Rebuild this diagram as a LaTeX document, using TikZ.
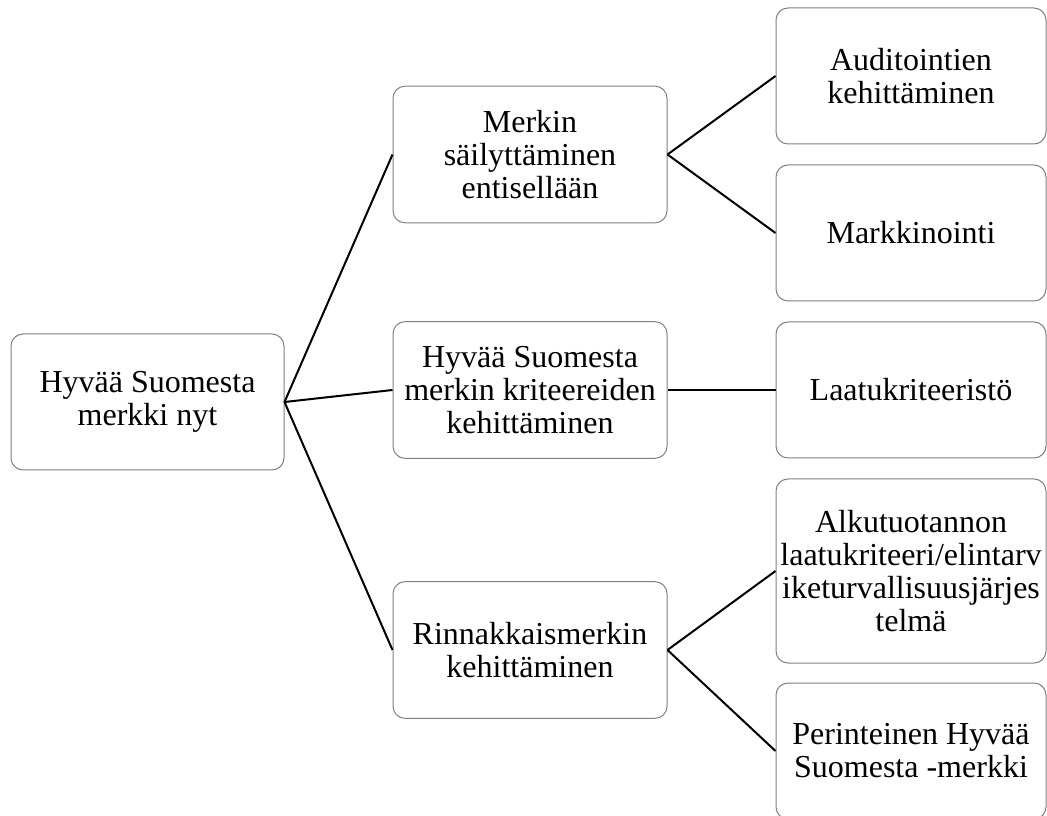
\documentclass[tikz,border=0pt]{standalone}
\usepackage{fontspec}
\setmainfont{Liberation Serif}
\begin{document}
\begin{tikzpicture}[x=0.75pt,y=-0.75pt,
  box/.style={draw=black!50, line width=0.75pt, rounded corners=9pt, fill=white,
    align=center, inner sep=0pt, font=\fontsize{24}{24.75}\selectfont},
  rootbox/.style={box, minimum width=204.75pt, minimum height=102pt},
  midbox/.style={box, minimum width=205.5pt, minimum height=102.5pt},
  leafbox/.style={box, minimum width=202.5pt, minimum height=102pt},
  tallbox/.style={box, minimum width=202.5pt, minimum height=138pt},
  link/.style={draw=black, line width=1.5pt}]
\useasboundingbox (0,0) rectangle (1047,816);
\clip (0,0) rectangle (1047,816);
\node[rootbox] (root) at (147.5,402) {Hyvää Suomesta\\merkki nyt};
\node[midbox] (m1) at (530,154.5) {Merkin\\säilyttäminen\\entisellään};
\node[midbox] (m2) at (530,390) {Hyvää Suomesta\\merkin kriteereiden\\kehittäminen};
\node[midbox] (m3) at (530,650) {Rinnakkaismerkin\\kehittäminen};
\node[leafbox] (l1) at (911,76) {Auditointien\\kehittäminen};
\node[leafbox] (l2) at (911,233) {Markkinointi};
\node[leafbox] (l3) at (911,390) {Laatukriteeristö};
\node[tallbox] (l4) at (911,571) {Alkutuotannon\\laatukriteeri/elintarv\\iketurvallisuusjärjes\\telmä};
\node[leafbox] (l5) at (911,751) {Perinteinen Hyvää\\Suomesta -merkki};
\draw[link] (root.east) -- (m1.west);
\draw[link] (root.east) -- (m2.west);
\draw[link] (root.east) -- (m3.west);
\draw[link] (m1.east) -- (l1.west);
\draw[link] (m1.east) -- (l2.west);
\draw[link] (m2.east) -- (l3.west);
\draw[link] (m3.east) -- (l4.west);
\draw[link] (m3.east) -- (l5.west);
\end{tikzpicture}
\end{document}
